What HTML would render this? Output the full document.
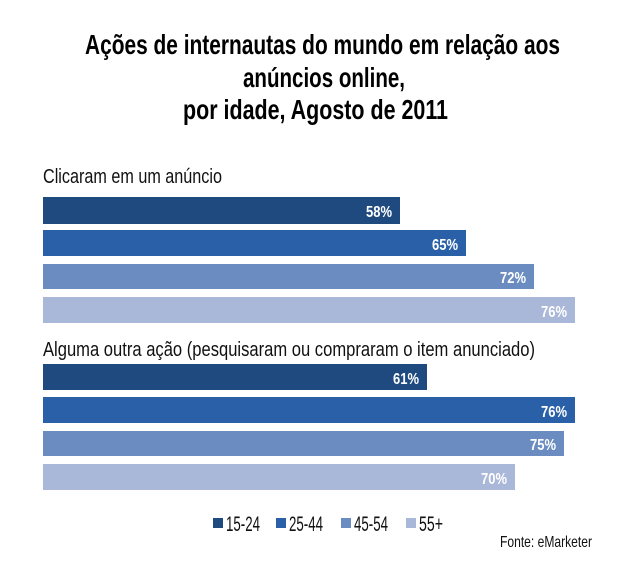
<!DOCTYPE html>
<html><head><meta charset="utf-8"><style>
body{margin:0;background:#fff;width:620px;height:557px;overflow:hidden}
</style></head><body>
<svg width="620" height="557" xmlns="http://www.w3.org/2000/svg" font-family="'Liberation Sans Narrow','Liberation Sans',sans-serif">
<g font-weight="bold" font-size="28" fill="#000">
<text x="85" y="54" textLength="475" lengthAdjust="spacingAndGlyphs">Ações de internautas  do mundo  em relação  aos</text>
<text x="243" y="87" textLength="162" lengthAdjust="spacingAndGlyphs">anúncios  online,</text>
<text x="183" y="119" textLength="265" lengthAdjust="spacingAndGlyphs">por idade,  Agosto  de  2011</text>
</g>
<text x="43" y="183" font-size="20" textLength="179" lengthAdjust="spacingAndGlyphs" fill="#111">Clicaram em um anúncio</text>
<text x="43" y="356" font-size="20" textLength="492" lengthAdjust="spacingAndGlyphs" fill="#111">Alguma outra ação (pesquisaram ou compraram o item anunciado)</text>
<g>
<rect x="43" y="197" width="357" height="27" fill="#1f4a80"/>
<rect x="43" y="230" width="423" height="26" fill="#2a60a8"/>
<rect x="43" y="264" width="491" height="25" fill="#6a8cc0"/>
<rect x="43" y="297" width="532" height="26" fill="#a9b8d8"/>
<rect x="43" y="364" width="384" height="26" fill="#1f4a80"/>
<rect x="43" y="397" width="532" height="26" fill="#2a60a8"/>
<rect x="43" y="431" width="521" height="25" fill="#6a8cc0"/>
<rect x="43" y="464" width="472" height="26" fill="#a9b8d8"/>
</g>
<g font-weight="bold" font-size="16" fill="#fff" text-anchor="end">
<text x="392" y="217" textLength="26" lengthAdjust="spacingAndGlyphs">58%</text>
<text x="458" y="250" textLength="26" lengthAdjust="spacingAndGlyphs">65%</text>
<text x="526" y="283" textLength="26" lengthAdjust="spacingAndGlyphs">72%</text>
<text x="567" y="317" textLength="26" lengthAdjust="spacingAndGlyphs">76%</text>
<text x="419" y="384" textLength="26" lengthAdjust="spacingAndGlyphs">61%</text>
<text x="567" y="417" textLength="26" lengthAdjust="spacingAndGlyphs">76%</text>
<text x="556" y="450" textLength="26" lengthAdjust="spacingAndGlyphs">75%</text>
<text x="507" y="484" textLength="26" lengthAdjust="spacingAndGlyphs">70%</text>
</g>
<g font-size="21" fill="#111">
<rect x="213" y="518" width="10" height="10" fill="#1f4a80"/><text x="226" y="531" textLength="34" lengthAdjust="spacingAndGlyphs">15-24</text>
<rect x="276" y="518" width="10" height="10" fill="#2a60a8"/><text x="289" y="531" textLength="34" lengthAdjust="spacingAndGlyphs">25-44</text>
<rect x="341" y="518" width="10" height="10" fill="#6a8cc0"/><text x="354" y="531" textLength="34" lengthAdjust="spacingAndGlyphs">45-54</text>
<rect x="406" y="518" width="10" height="10" fill="#a9b8d8"/><text x="419" y="531" textLength="24" lengthAdjust="spacingAndGlyphs">55+</text>
</g>
<text x="500" y="547" font-size="16" textLength="92" lengthAdjust="spacingAndGlyphs" fill="#111">Fonte: eMarketer</text>
</svg>
</body></html>
